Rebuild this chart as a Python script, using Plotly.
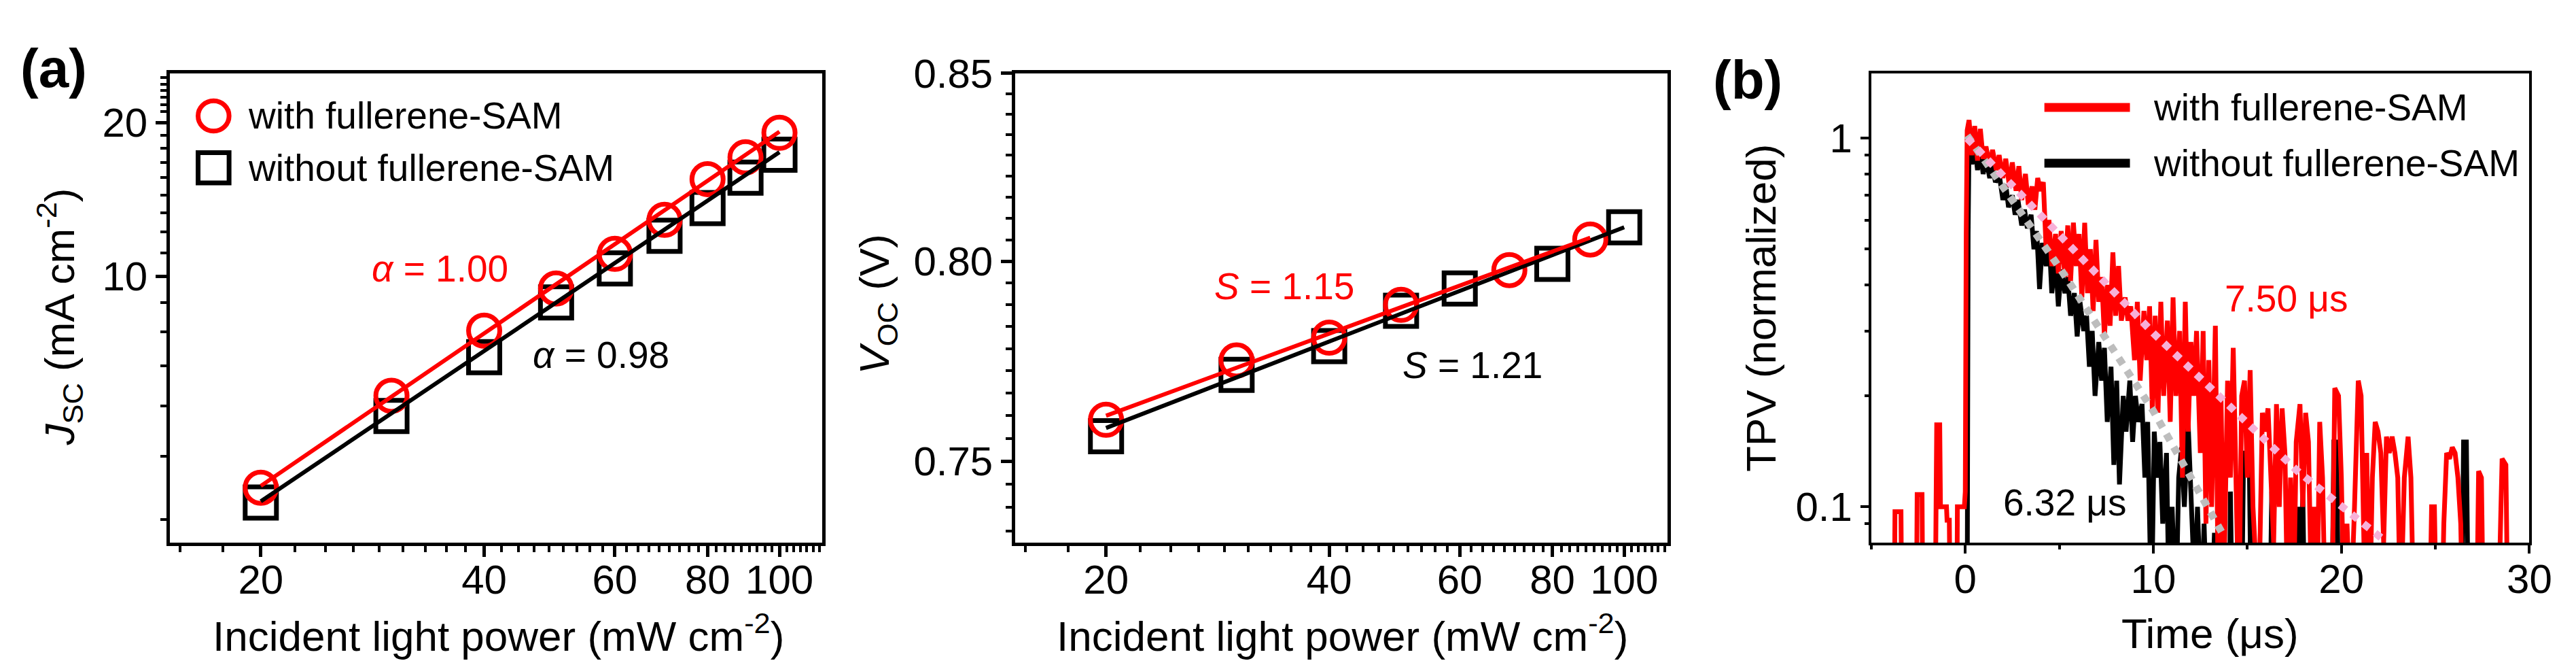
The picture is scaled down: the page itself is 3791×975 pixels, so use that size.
import plotly.graph_objects as go

W, H = 3791, 975
FONT = "Liberation Sans"
RED = "#ff0000"
BLACK = "#000000"
PINK = "#f7b0d8"
GREY = "#bdbdbd"

# ---------------- Panel (a) left: Jsc vs incident light power ----------------
power = [20, 30, 40, 50, 60, 70, 80, 90, 100]
jsc_with = [3.85, 5.83, 7.82, 9.46, 11.06, 12.9, 15.5, 17.1, 19.1]
jsc_without = [3.60, 5.32, 6.94, 8.88, 10.36, 12.0, 13.6, 15.6, 17.3]
jsc_fit_x = [20, 100]
jsc_fit_with = [3.88, 19.2]
jsc_fit_without = [3.62, 17.5]

# ---------------- Panel (a) right: Voc vs incident light power ----------------
voc_power_with = [20, 30, 40, 50, 70, 90]
voc_with = [0.7601, 0.7748, 0.7805, 0.7888, 0.7977, 0.8056]
voc_power_without = [20, 30, 40, 50, 60, 80, 100]
voc_without = [0.7561, 0.7712, 0.7784, 0.7873, 0.7930, 0.7993, 0.8088]
voc_fit_x_with = [20, 90]
voc_fit_with = [0.7611, 0.8061]
voc_fit_x_without = [20, 100]
voc_fit_without = [0.7581, 0.8088]

# ---------------- Panel (b): TPV decay traces (time us, normalized) ----------------
tpv_with = [
    (-5.0, 0.05), (-3.78, 0.05), (-3.74, 0.097), (-3.42, 0.097), (-3.38, 0.05),
    (-2.6, 0.05), (-2.56, 0.108), (-2.3, 0.108), (-2.26, 0.05),
    (-1.6, 0.05), (-1.56, 0.092), (-1.52, 0.167), (-1.36, 0.167), (-1.32, 0.1),
    (-1.0, 0.1), (-0.97, 0.092), (-0.85, 0.092), (-0.8, 0.05),
    (-0.45, 0.05), (-0.42, 0.1), (-0.05, 0.1), (0.0, 0.11), (0.05, 0.55), (0.1, 1.05),
    (0.2, 1.12), (0.35, 0.9), (0.5, 1.08), (0.65, 0.87), (0.8, 1.06), (0.95, 0.88),
    (1.1, 0.95), (1.3, 0.84), (1.45, 0.93), (1.65, 0.82), (1.8, 0.9), (2.0, 0.78),
    (2.15, 0.88), (2.35, 0.74), (2.5, 0.86), (2.7, 0.72), (2.85, 0.84), (3.0, 0.68),
    (3.2, 0.8), (3.35, 0.66), (3.55, 0.74), (3.7, 0.64), (3.85, 0.78), (4.0, 0.72),
    (4.15, 0.76), (4.3, 0.5), (4.45, 0.6), (4.6, 0.45), (4.8, 0.55), (4.95, 0.43),
    (5.1, 0.56), (5.3, 0.42), (5.45, 0.58), (5.6, 0.41), (5.75, 0.59), (5.9, 0.45),
    (6.05, 0.55), (6.2, 0.37), (6.35, 0.59), (6.5, 0.38), (6.65, 0.5), (6.8, 0.34),
    (6.95, 0.53), (7.1, 0.36), (7.25, 0.42), (7.4, 0.29), (7.55, 0.4), (7.7, 0.31),
    (7.85, 0.49), (8.0, 0.33), (8.15, 0.45), (8.3, 0.32), (8.5, 0.37), (8.65, 0.32),
    (8.8, 0.35), (9.0, 0.25), (9.15, 0.36), (9.3, 0.22), (9.5, 0.34), (9.65, 0.25),
    (9.8, 0.35), (9.95, 0.18), (10.1, 0.33), (10.25, 0.18), (10.4, 0.36), (10.55, 0.2),
    (10.75, 0.32), (10.9, 0.17), (11.05, 0.37), (11.2, 0.2), (11.4, 0.3), (11.55, 0.12),
    (11.7, 0.36), (11.85, 0.16), (12.0, 0.28), (12.15, 0.2), (12.3, 0.3), (12.5, 0.14),
    (12.65, 0.3), (12.8, 0.09), (12.95, 0.25), (13.1, 0.1), (13.3, 0.31), (13.45, 0.06),
    (13.6, 0.2), (13.75, 0.06), (13.95, 0.22), (14.1, 0.12), (14.25, 0.27), (14.4, 0.1),
    (14.55, 0.05), (14.7, 0.2), (14.85, 0.22), (15.0, 0.12), (15.15, 0.235), (15.3, 0.1),
    (15.45, 0.05), (15.6, 0.05), (15.8, 0.18), (15.95, 0.16), (16.1, 0.185), (16.25, 0.12),
    (16.4, 0.08), (16.55, 0.19), (16.7, 0.1), (16.85, 0.185), (17.0, 0.14), (17.15, 0.05),
    (17.3, 0.12), (17.45, 0.05), (17.6, 0.15), (17.8, 0.19), (17.95, 0.1), (18.1, 0.18),
    (18.25, 0.15), (18.4, 0.06), (18.55, 0.1), (18.7, 0.05), (18.85, 0.17), (19.0, 0.12),
    (19.15, 0.05), (19.3, 0.08), (19.5, 0.05), (19.65, 0.21), (19.85, 0.2), (20.0, 0.12),
    (20.15, 0.05), (20.3, 0.09), (20.5, 0.05), (20.7, 0.1), (20.9, 0.22), (21.05, 0.2),
    (21.2, 0.08), (21.35, 0.14), (21.5, 0.05), (21.65, 0.12), (21.8, 0.17), (21.95, 0.16),
    (22.1, 0.14), (22.25, 0.08), (22.4, 0.155), (22.55, 0.14), (22.7, 0.155), (22.85, 0.14),
    (23.0, 0.12), (23.15, 0.05), (23.35, 0.12), (23.55, 0.155), (23.7, 0.12), (23.85, 0.05),
    (24.7, 0.05), (24.8, 0.1), (24.95, 0.1), (25.05, 0.05), (25.35, 0.05), (25.45, 0.09),
    (25.6, 0.14), (25.75, 0.135), (25.9, 0.145), (26.05, 0.14), (26.2, 0.12), (26.35, 0.09),
    (26.45, 0.05), (27.2, 0.05), (27.3, 0.125), (27.45, 0.12), (27.55, 0.05), (28.35, 0.05),
    (28.45, 0.09), (28.55, 0.135), (28.75, 0.13), (28.85, 0.05), (30.0, 0.05),
]
tpv_without = [
    (-5.0, 0.05), (0.1, 0.05), (0.15, 0.55), (0.2, 0.98), (0.35, 0.85), (0.5, 0.97),
    (0.65, 0.82), (0.8, 0.93), (0.95, 0.8), (1.1, 0.88), (1.3, 0.78), (1.45, 0.85),
    (1.6, 0.76), (1.8, 0.8), (2.0, 0.68), (2.15, 0.75), (2.3, 0.65), (2.5, 0.7),
    (2.65, 0.62), (2.8, 0.68), (3.0, 0.58), (3.15, 0.64), (3.3, 0.57), (3.5, 0.62),
    (3.65, 0.5), (3.8, 0.56), (3.95, 0.39), (4.1, 0.52), (4.3, 0.45), (4.45, 0.55),
    (4.6, 0.38), (4.8, 0.47), (4.95, 0.35), (5.1, 0.44), (5.3, 0.38), (5.45, 0.42),
    (5.6, 0.33), (5.8, 0.38), (5.95, 0.29), (6.1, 0.36), (6.3, 0.3), (6.45, 0.33),
    (6.6, 0.24), (6.75, 0.3), (6.9, 0.2), (7.1, 0.28), (7.25, 0.22), (7.4, 0.27),
    (7.55, 0.17), (7.75, 0.24), (7.9, 0.13), (8.05, 0.22), (8.2, 0.115), (8.4, 0.2),
    (8.55, 0.16), (8.75, 0.22), (8.9, 0.15), (9.05, 0.2), (9.2, 0.17), (9.4, 0.19),
    (9.55, 0.12), (9.7, 0.17), (9.9, 0.05), (10.05, 0.16), (10.2, 0.12), (10.35, 0.15),
    (10.5, 0.09), (10.7, 0.14), (10.85, 0.05), (11.0, 0.1), (11.2, 0.05), (11.35, 0.12),
    (11.5, 0.145), (11.65, 0.1), (11.85, 0.17), (12.0, 0.12), (12.2, 0.06), (12.35, 0.1),
    (12.55, 0.05), (12.7, 0.09), (12.85, 0.05), (13.1, 0.05), (13.25, 0.085), (13.4, 0.05),
    (14.05, 0.05), (14.1, 0.11), (14.2, 0.05), (14.7, 0.05), (14.8, 0.14), (15.1, 0.14),
    (15.2, 0.05), (16.2, 0.05), (16.3, 0.11), (16.4, 0.05), (17.6, 0.05), (17.7, 0.1),
    (17.8, 0.05), (17.95, 0.11), (18.05, 0.05), (19.5, 0.05), (19.6, 0.15), (19.75, 0.15),
    (19.85, 0.05), (21.2, 0.05), (21.3, 0.14), (21.4, 0.05), (26.4, 0.05), (26.5, 0.15),
    (26.65, 0.15), (26.75, 0.05), (30.0, 0.05),
]
fit_t_with = [0.1, 5.06, 10.0, 17.67, 22.3]
fit_with = [1.0, 0.546, 0.296, 0.125, 0.081]
fit_t_without = [0.1, 5.06, 10.0, 13.8]
fit_without = [1.017, 0.442, 0.182, 0.0825]

# tick labels
pow_ticks = [20, 40, 60, 80, 100]
jsc_ticks = [10, 20]
voc_ticks = [0.75, 0.80, 0.85]
voc_ticktext = ["0.75", "0.80", "0.85"]
tpv_ticks = [0.1, 1]
tpv_ticktext = ["0.1", "1"]
time_ticks = [0, 10, 20, 30]


def px(x):
    return x / W


def py(y):
    return 1 - y / H


def lin_minor(majors, n=9):
    out = []
    for a, b in zip(majors[:-1], majors[1:]):
        out += [a + k * (b - a) / n for k in range(1, n)]
    return out


pow_minor = [v for v in lin_minor([0, 20, 40, 60, 80, 100, 120]) if 15.1 < v < 114.3]
jsc_minor = [3.33, 4.44, 5.56, 6.67, 7.78, 8.89, 11.1, 12.2, 13.3, 14.4, 15.6, 16.7,
             17.8, 18.9, 21.0, 21.7, 22.4, 23.1, 23.8, 24.5]
voc_minor = [v for v in lin_minor([0.70, 0.75, 0.80, 0.85]) if v > 0.731]
tpv_minor = [0.09] + [k / 10 for k in range(2, 10)]

fig = go.Figure()

# Panel 1
fig.add_trace(go.Scatter(x=power, y=jsc_without, mode="markers", xaxis="x", yaxis="y",
                         marker=dict(symbol="square-open", size=46, color=BLACK,
                                     line=dict(width=7, color=BLACK))))
fig.add_trace(go.Scatter(x=power, y=jsc_with, mode="markers", xaxis="x", yaxis="y",
                         marker=dict(symbol="circle-open", size=46, color=RED,
                                     line=dict(width=7, color=RED))))
fig.add_trace(go.Scatter(x=jsc_fit_x, y=jsc_fit_without, mode="lines", xaxis="x", yaxis="y",
                         line=dict(color=BLACK, width=6)))
fig.add_trace(go.Scatter(x=jsc_fit_x, y=jsc_fit_with, mode="lines", xaxis="x", yaxis="y",
                         line=dict(color=RED, width=6)))

# Panel 2
fig.add_trace(go.Scatter(x=voc_power_without, y=voc_without, mode="markers", xaxis="x2", yaxis="y2",
                         marker=dict(symbol="square-open", size=46, color=BLACK,
                                     line=dict(width=7, color=BLACK))))
fig.add_trace(go.Scatter(x=voc_power_with, y=voc_with, mode="markers", xaxis="x2", yaxis="y2",
                         marker=dict(symbol="circle-open", size=46, color=RED,
                                     line=dict(width=7, color=RED))))
fig.add_trace(go.Scatter(x=voc_fit_x_without, y=voc_fit_without, mode="lines", xaxis="x2", yaxis="y2",
                         line=dict(color=BLACK, width=6)))
fig.add_trace(go.Scatter(x=voc_fit_x_with, y=voc_fit_with, mode="lines", xaxis="x2", yaxis="y2",
                         line=dict(color=RED, width=6)))

# Panel 3
fig.add_trace(go.Scatter(x=[p[0] for p in tpv_without], y=[p[1] for p in tpv_without],
                         mode="lines", xaxis="x3", yaxis="y3",
                         line=dict(color=BLACK, width=7)))
fig.add_trace(go.Scatter(x=[p[0] for p in tpv_with], y=[p[1] for p in tpv_with],
                         mode="lines", xaxis="x3", yaxis="y3",
                         line=dict(color=RED, width=7)))
fig.add_trace(go.Scatter(x=fit_t_without, y=fit_without, mode="lines", xaxis="x3", yaxis="y3",
                         line=dict(color=GREY, width=11, dash="dot")))
fig.add_trace(go.Scatter(x=fit_t_with, y=fit_with, mode="lines", xaxis="x3", yaxis="y3",
                         line=dict(color=PINK, width=11, dash="dot")))

TICKFONT = dict(family=FONT, size=60, color=BLACK)


def axis(domain, anchor, lw=4.5, tl=16, tw=4.5, mtl=9, mtw=3.5, **kw):
    d = dict(domain=domain, anchor=anchor, showline=True, linecolor=BLACK, linewidth=lw,
             mirror=True, ticks="outside", ticklen=tl, tickwidth=tw, tickcolor=BLACK,
             showgrid=False, zeroline=False, tickfont=TICKFONT)
    d["minor"] = dict(ticks="outside", ticklen=mtl, tickwidth=mtw, tickcolor=BLACK, showgrid=False)
    d.update(kw)
    return d


ydom = [py(784), py(69)]
XSTAND = -18

fig.update_layout(
    width=W, height=H, autosize=False,
    margin=dict(l=0, r=0, t=0, b=0),
    paper_bgcolor="white", plot_bgcolor="white",
    showlegend=False,
    xaxis=axis([px(244), px(1213)], "y", type="log", range=[1.1784, 2.058],
               tickmode="array", tickvals=pow_ticks, ticktext=[str(v) for v in pow_ticks],
               ticklabelstandoff=XSTAND),
    yaxis=axis(ydom, "x", type="log", range=[0.4771, 1.3979],
               tickmode="array", tickvals=jsc_ticks, ticktext=[str(v) for v in jsc_ticks]),
    xaxis2=axis([px(1499), px(2467)], "y2", type="log", range=[1.1784, 2.058],
                tickmode="array", tickvals=pow_ticks, ticktext=[str(v) for v in pow_ticks],
                ticklabelstandoff=XSTAND),
    yaxis2=axis(ydom, "x2", type="log", range=[-0.13638, -0.07058],
                tickmode="array", tickvals=voc_ticks, ticktext=voc_ticktext),
    xaxis3=axis([px(2770), px(3747)], "y3", lw=4, tl=12, tw=4, mtl=6, mtw=3.5,
                range=[-5, 30], tickmode="array", tickvals=time_ticks,
                ticktext=[str(v) for v in time_ticks], ticklabelstandoff=XSTAND + 4),
    yaxis3=axis(ydom, "x3", lw=4, tl=12, tw=4, mtl=6, mtw=3.5, type="log",
                range=[-1.098, 0.1765], tickmode="array", tickvals=tpv_ticks,
                ticktext=tpv_ticktext),
)
fig.layout.xaxis.minor.update(tickmode="array", tickvals=pow_minor)
fig.layout.xaxis2.minor.update(tickmode="array", tickvals=pow_minor)
fig.layout.yaxis.minor.update(tickmode="array", tickvals=jsc_minor)
fig.layout.yaxis2.minor.update(tickmode="array", tickvals=voc_minor)
fig.layout.xaxis3.minor.update(tickmode="array", tickvals=[-5, 5, 15, 25])
fig.layout.yaxis3.minor.update(tickmode="array", tickvals=tpv_minor)

ann = []


def text(x, y, s, size=55, color=BLACK, xanchor="center", angle=0, bold=False):
    ann.append(dict(x=px(x), y=py(y), xref="paper", yref="paper", text=("<b>%s</b>" % s) if bold else s,
                    showarrow=False, xanchor=xanchor, yanchor="middle", textangle=angle,
                    font=dict(family=FONT, size=size, color=color)))


# panel labels
text(72, 62, "(a)", size=80, bold=True)
text(2587, 79, "(b)", size=80, bold=True)

# axis titles
text(732, 921, "Incident light power (mW cm<sup>-2</sup>)", size=62)
text(1985, 921, "Incident light power (mW cm<sup>-2</sup>)", size=62)
text(3273, 922, "Time (μs)", size=62)
text(80, 440, "<i>J</i><sub>SC</sub> (mA cm<sup>-2</sup>)", size=62, angle=-90)
text(1294, 421, "<i>V</i><sub>OC</sub> (V)", size=62, angle=-90)
text(2606, 426, "TPV (normalized)", size=62, angle=-90)

# in-plot labels
text(645, 366, "<i>α</i> = 1.00", color=RED)
text(884, 498, "<i>α</i> = 0.98")
text(1899, 393, "<i>S</i> = 1.15", color=RED)
text(2178, 513, "<i>S</i> = 1.21")
text(3386, 412, "7.50 μs", color=RED)
text(3058, 722, "6.32 μs")

# legends
text(358, 134, "with fullerene-SAM", xanchor="left")
text(358, 213, "without fullerene-SAM", xanchor="left")
text(3187, 121, "with fullerene-SAM", xanchor="left")
text(3187, 206, "without fullerene-SAM", xanchor="left")

shapes = [
    dict(type="circle", xref="paper", yref="paper", x0=px(309 - 23), x1=px(309 + 23),
         y0=py(134 + 23), y1=py(134 - 23), line=dict(color=RED, width=7)),
    dict(type="rect", xref="paper", yref="paper", x0=px(309 - 23), x1=px(309 + 23),
         y0=py(213 + 23), y1=py(213 - 23), line=dict(color=BLACK, width=7)),
    dict(type="line", xref="paper", yref="paper", x0=px(3027), x1=px(3154),
         y0=py(121), y1=py(121), line=dict(color=RED, width=13)),
    dict(type="line", xref="paper", yref="paper", x0=px(3027), x1=px(3154),
         y0=py(206), y1=py(206), line=dict(color=BLACK, width=13)),
]

fig.update_layout(annotations=ann, shapes=shapes)
fig.write_html("out.html")
